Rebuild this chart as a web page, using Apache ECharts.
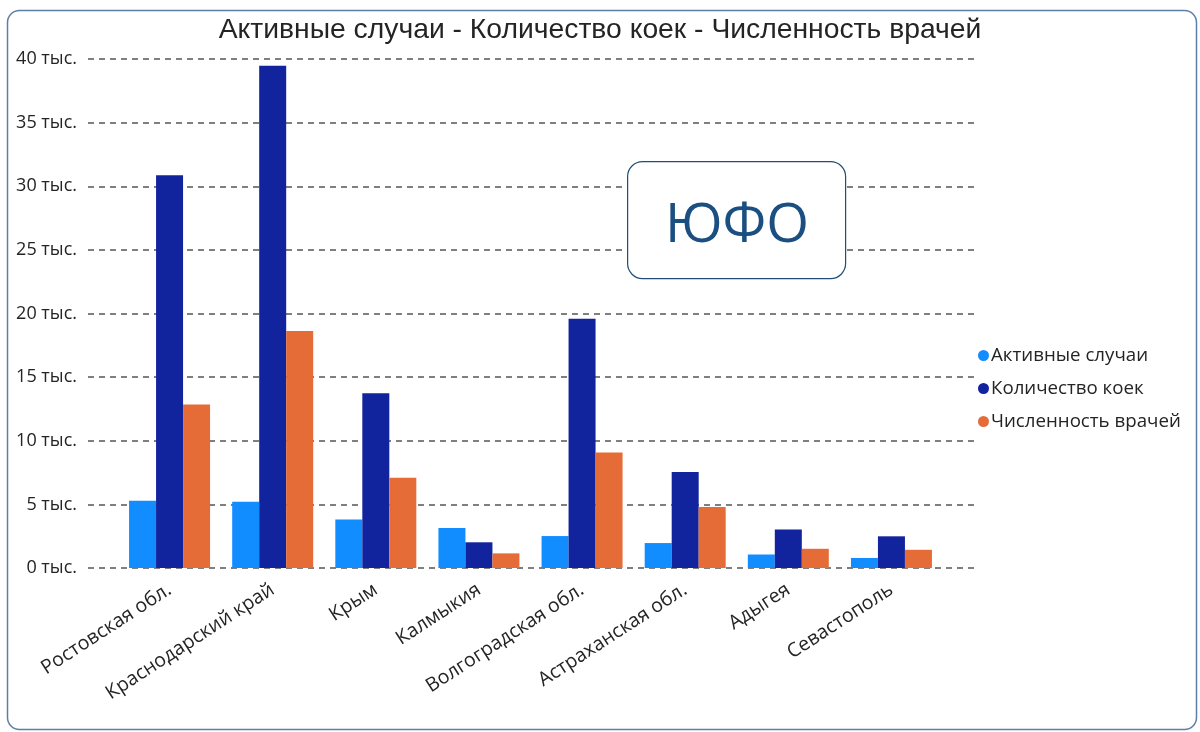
<!DOCTYPE html>
<html><head><meta charset="utf-8">
<script src="https://cdn.jsdelivr.net/npm/echarts@6/dist/echarts.min.js"></script>
<style>html,body{margin:0;padding:0;background:#fff}#c{width:1200px;height:732px}</style>
</head><body><div id="c"></div>
<script>
const categories = ['Ростовская обл.','Краснодарский край','Крым','Калмыкия','Волгоградская обл.','Астраханская обл.','Адыгея','Севастополь'];
const activeCases = [5280, 5200, 3820, 3140, 2510, 1960, 1060, 790];
const bedCount = [30870, 39470, 13740, 2020, 19580, 7540, 3020, 2490];
const doctorCount = [12840, 18620, 7090, 1150, 9080, 4790, 1510, 1430];
const seriesNames = ['Активные случаи','Количество коек','Численность врачей'];
const yTicks = {min: 0, max: 40000, interval: 5000};

const chart = echarts.init(document.getElementById('c'));
const font = '"Open Sans", "Noto Sans", sans-serif';
const colors = ['#118DFF','#12239E','#E66C37'];
const barW = 27;
chart.setOption({
  animation: false,
  color: colors,
  title: {text: 'Активные случаи - Количество коек - Численность врачей', left: 'center', top: 11,
    textStyle: {fontFamily: '"Liberation Sans", Arial, sans-serif', fontSize: 28.3, fontWeight: 'normal', color: '#252423'}},
  legend: {orient: 'vertical', left: 973, top: 341, itemGap: 14, icon: 'circle', itemWidth: 11, itemHeight: 11,
    textStyle: {fontFamily: font, fontSize: 18.7, color: '#252423', padding: [0,0,0,-3]}, data: seriesNames},
  grid: [
    {left: 88, right: 225, top: 59, bottom: 164},
    {left: 118, right: 257, top: 59, bottom: 164}
  ],
  xAxis: [
    {type: 'category', gridIndex: 0, data: categories, show: false},
    {type: 'category', gridIndex: 1, data: categories,
      axisLine: {show: false}, axisTick: {show: false},
      axisLabel: {rotate: 33, interval: 0, margin: 20, fontFamily: font, fontSize: 19.5, color: '#252423'}}
  ],
  yAxis: [
    {type: 'value', gridIndex: 0, min: yTicks.min, max: yTicks.max, interval: yTicks.interval,
      axisLine: {show: false}, axisTick: {show: false},
      axisLabel: {margin: 11, fontFamily: font, fontSize: 18, color: '#252423', formatter: v => (v/1000) + ' тыс.'},
      splitLine: {lineStyle: {type: [6,5], color: '#555', width: 1.5}}},
    {type: 'value', gridIndex: 1, min: yTicks.min, max: yTicks.max, interval: yTicks.interval, show: false, splitLine: {show: false}}
  ],
  series: [
    {name: seriesNames[0], type: 'bar', xAxisIndex: 1, yAxisIndex: 1, data: activeCases, barWidth: barW, barGap: '0%'},
    {name: seriesNames[1], type: 'bar', xAxisIndex: 1, yAxisIndex: 1, data: bedCount, barWidth: barW, barGap: '0%'},
    {name: seriesNames[2], type: 'bar', xAxisIndex: 1, yAxisIndex: 1, data: doctorCount, barWidth: barW, barGap: '0%'}
  ],
  graphic: [
    {type: 'rect', left: 5, top: 8, shape: {width: 1189, height: 719, r: 12}, z: -1,
      style: {fill: 'none', stroke: '#5B7FA6', lineWidth: 1.5}},
    {type: 'rect', left: 627, top: 161, shape: {width: 218, height: 117, r: 15}, z: 10,
      style: {fill: '#fff', stroke: '#1F4E79', lineWidth: 1.2}},
    {type: 'text', z: 11, x: 737, y: 226,
      style: {text: 'ЮФО', fill: '#1B4F82', font: '55px "Open Sans", "Noto Sans", sans-serif', align: 'center', verticalAlign: 'middle'}}
  ]
});
</script></body></html>
